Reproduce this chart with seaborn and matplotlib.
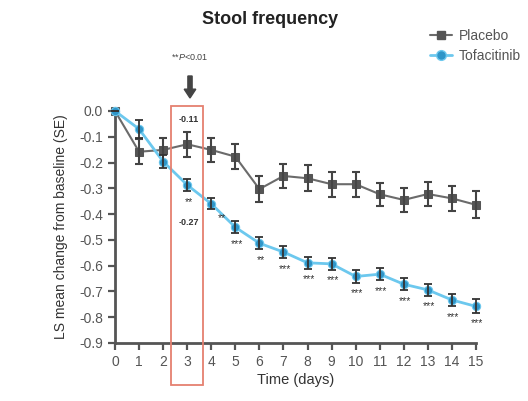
import matplotlib
matplotlib.use("Agg")
import matplotlib.pyplot as plt
import seaborn as sns
import pandas as pd
import numpy as np
from matplotlib.patches import Rectangle
from matplotlib.lines import Line2D

days = list(range(16))
placebo = [0.0, -0.158, -0.151, -0.129, -0.151, -0.177, -0.303, -0.252, -0.261,
           -0.284, -0.284, -0.323, -0.345, -0.322, -0.339, -0.364]
placebo_se = [0.0, 0.048, 0.045, 0.048, 0.048, 0.048, 0.05, 0.048, 0.05,
              0.048, 0.048, 0.045, 0.048, 0.048, 0.048, 0.053]
tofaci = [0.0, -0.070, -0.196, -0.287, -0.360, -0.451, -0.513, -0.547, -0.589,
          -0.593, -0.642, -0.633, -0.672, -0.694, -0.733, -0.758]
tofaci_se = [0.0, 0.034, 0.026, 0.023, 0.022, 0.024, 0.024, 0.024, 0.024,
             0.024, 0.024, 0.024, 0.024, 0.024, 0.024, 0.027]
stars = ["", "", "", "**", "**", "***", "**", "***", "***", "***", "***",
         "***", "***", "***", "***", "***"]
yticks = [0.0, -0.1, -0.2, -0.3, -0.4, -0.5, -0.6, -0.7, -0.8, -0.9]

sns.set_theme(style="white")
plt.rcParams['font.family'] = ['Liberation Sans', 'DejaVu Sans']
plt.rcParams['mathtext.fontset'] = 'custom'
plt.rcParams['mathtext.it'] = 'Liberation Sans:italic'
plt.rcParams['mathtext.rm'] = 'Liberation Sans'

fig = plt.figure(figsize=(5.28, 4.01), dpi=100)
ax = fig.add_axes([115/528, 1-343/401, (476-115)/528, (343-111)/401])

gray = "#6b6b6b"
gray_m = "#555555"
blue_l = "#6cc8ee"
blue_m = "#2f95c8"
axcol = "#555555"

df = pd.DataFrame({
    "day": days * 2,
    "value": placebo + tofaci,
    "group": ["Placebo"] * 16 + ["Tofacitinib"] * 16,
})

ax.errorbar(days, placebo, yerr=placebo_se, fmt="none", ecolor="#444444",
            elinewidth=1.5, capsize=3, capthick=1.5, clip_on=False, zorder=3)
ax.errorbar(days, tofaci, yerr=tofaci_se, fmt="none", ecolor="#333333",
            elinewidth=1.3, capsize=3, capthick=1.3, clip_on=False, zorder=4)

sns.lineplot(data=df[df.group == "Placebo"], x="day", y="value", ax=ax,
             color=gray, lw=1.5, marker="s", markersize=5.5, markerfacecolor=gray_m,
             markeredgecolor=gray_m, legend=False, clip_on=False, zorder=2)
sns.lineplot(data=df[df.group == "Tofacitinib"], x="day", y="value", ax=ax,
             color=blue_l, lw=2.0, marker="o", markersize=6, markerfacecolor=blue_m,
             markeredgecolor=blue_l, legend=False, clip_on=False, zorder=3)

for d, v, s in zip(days, tofaci, stars):
    if not s:
        continue
    if d == 4:
        ax.annotate(s, (d, v), xytext=(5, -10), textcoords="offset points",
                    ha="left", va="center", fontsize=7.5, color="#333333")
    else:
        ax.annotate(s, (d, v), xytext=(1, -12), textcoords="offset points",
                    ha="center", va="center", fontsize=7.5, color="#333333")

ax.set_xlim(0, 15)
ax.set_ylim(-0.9, 0.0)
ax.set_xticks(days)
ax.set_yticks(yticks)
ax.set_yticklabels([f"{t:.1f}" for t in yticks])
for sp in ["top", "right"]:
    ax.spines[sp].set_visible(False)
for sp in ["left", "bottom"]:
    ax.spines[sp].set_color(axcol)
    ax.spines[sp].set_linewidth(2)
ax.tick_params(axis="both", direction="out", length=5, width=1.6, color=axcol,
               labelsize=10, labelcolor="#555555", left=True, bottom=True)
ax.set_xlabel("Time (days)", fontsize=10.5, color="#333333", labelpad=3)
ax.set_ylabel("LS mean change from baseline (SE)", fontsize=10, color="#333333",
              labelpad=8)

# Red box around day 3
rect = Rectangle((171/528, 1-385/401), (203-171)/528, (385-106)/401,
                 transform=fig.transFigure, fill=False, edgecolor="#e58070",
                 lw=1.3, zorder=10)
fig.patches.append(rect)
fig.text(189/528, 1-120/401, "-0.11", ha="center", va="center", fontsize=6.5,
         color="#333333", weight="bold")
fig.text(189/528, 1-222/401, "-0.27", ha="center", va="center", fontsize=6.5,
         color="#333333", weight="bold")
fig.text(190/528, 1-57/401, "**$\\it{P}$<0.01", ha="center", va="center",
         fontsize=6.5, color="#444444")
fig.patches.append(matplotlib.patches.FancyArrow(
    190/528, 1-76/401, 0, -(22)/401, width=0.008, head_width=0.022,
    head_length=0.022, length_includes_head=True, transform=fig.transFigure,
    color="#444444"))

fig.text(270/528, 1-20/401, "Stool frequency", ha="center", va="center",
         fontsize=13, weight="bold", color="#222222")

handles = [
    Line2D([0], [0], color=gray, lw=1.5, marker="s", markersize=6,
           markerfacecolor=gray_m, markeredgecolor=gray_m),
    Line2D([0], [0], color=blue_l, lw=2.0, marker="o", markersize=7,
           markerfacecolor=blue_m, markeredgecolor=blue_l),
]
fig.legend(handles, ["Placebo", "Tofacitinib"], loc="upper left",
           bbox_to_anchor=(430/528, 1-29/401), frameon=False, fontsize=10,
           handlelength=1.6, handletextpad=0.45, labelspacing=0.4,
           borderpad=0, borderaxespad=0, labelcolor="#555555")

fig.savefig("out.png", dpi=100)
